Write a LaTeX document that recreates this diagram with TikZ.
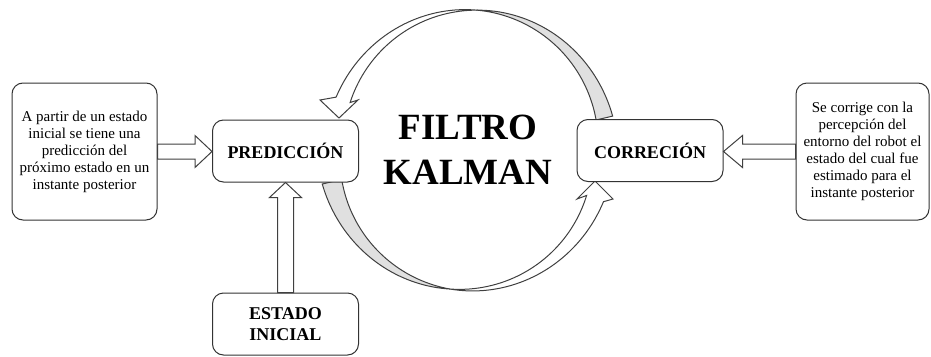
\documentclass[tikz,border=0pt]{standalone}
\usepackage{fontspec}
\setmainfont{Liberation Serif}
\usetikzlibrary{calc}

\begin{document}
\begin{tikzpicture}[x=1pt,y=-1pt]
        \tikzset{caja/.style = {draw=black!80, line width=1pt, fill=white, rounded corners=11pt, align=center, inner sep=2pt}}
        \tikzset{paso/.style = {caja, font=\bfseries\fontsize{18}{21}\selectfont, minimum width=146pt, minimum height=62pt}}
        \tikzset{nota/.style = {caja, font=\fontsize{15}{17}\selectfont, minimum height=137pt}}
        \tikzset{bloque/.style = {draw=black!75, line width=1pt, fill=white}}
        \tikzset{cinta/.style = {draw=black!75, line width=1pt}}

        \useasboundingbox (0,0) rectangle (931,356);

        % ring, upper half
        \filldraw[cinta, fill=black!12] plot[domain=13.2:87.5, samples=40] ({471+(137+8.5*(87.5-\x)/74.3)*cos(\x)},{150-(140+8.5*(87.5-\x)/74.3)*sin(\x)})
            -- plot[domain=87.5:13.2, samples=40] ({471+(137-8.5*(87.5-\x)/74.3)*cos(\x)},{150-(140-8.5*(87.5-\x)/74.3)*sin(\x)}) -- cycle;
        \filldraw[cinta, fill=white] plot[domain=87.5:159, samples=40] ({471+(137-7.5*(\x-87.5)/71.5)*cos(\x)},{150-(140-7.5*(\x-87.5)/71.5)*sin(\x)})
            -- (358,100) -- (339,118) -- (320,100)
            -- plot[domain=159:87.5, samples=40] ({471+(137+7.5*(\x-87.5)/71.5)*cos(\x)},{150-(140+7.5*(\x-87.5)/71.5)*sin(\x)}) -- cycle;

        % ring, lower half
        \filldraw[cinta, fill=black!12] plot[domain=193.1:263.3, samples=40] ({466+(137.6+10*(263.3-\x)/70.2)*cos(\x)},{150-(140+10*(263.3-\x)/70.2)*sin(\x)})
            -- plot[domain=263.3:193.1, samples=40] ({466+(137.6-10*(263.3-\x)/70.2)*cos(\x)},{150-(140-10*(263.3-\x)/70.2)*sin(\x)}) -- cycle;
        \filldraw[cinta, fill=white] plot[domain=263.3:339.7, samples=40] ({466+(137.6-9*(\x-263.3)/76.4)*cos(\x)},{150-(140-9*(\x-263.3)/76.4)*sin(\x)})
            -- (577,199) -- (595,181) -- (613,199)
            -- plot[domain=339.7:263.3, samples=40] ({466+(137.6+9*(\x-263.3)/76.4)*cos(\x)},{150-(140+9*(\x-263.3)/76.4)*sin(\x)}) -- cycle;

        % boxes
        \node[nota, minimum width=145pt] (izq) at (84.5,151.5) {A partir de un estado\\inicial se tiene una\\predicción del\\próximo estado en un\\instante posterior};
        \node[paso] (pred) at (285.5,151) {PREDICCIÓN};
        \node[paso] (corr) at (650,150.5) {CORRECIÓN};
        \node[nota, minimum width=133pt] (der) at (862.5,151.5) {Se corrige con la\\percepción del\\entorno del robot el\\estado del cual fue\\estimado para el\\instante posterior};
        \node[paso] (est) at (285.5,324) {ESTADO\\INICIAL};
        \node[font=\bfseries\fontsize{37}{45}\selectfont, align=center] (titulo) at (468,150) {FILTRO\\KALMAN};

        % arrows
        \draw[bloque] let \p1 = (izq.east), \p2 = (pred.west) in
            (\x1,\y1-7.5pt) -- (\x2-17pt,\y1-7.5pt) -- (\x2-17pt,\y1-16pt) -- (\x2,\y1)
            -- (\x2-17pt,\y1+16pt) -- (\x2-17pt,\y1+7.5pt) -- (\x1,\y1+7.5pt) -- cycle;
        \draw[bloque] let \p1 = (der.west), \p2 = (corr.east) in
            (\x1,\y1-7.5pt) -- (\x2+19pt,\y1-7.5pt) -- (\x2+19pt,\y1-16pt) -- (\x2,\y1)
            -- (\x2+19pt,\y1+16pt) -- (\x2+19pt,\y1+7.5pt) -- (\x1,\y1+7.5pt) -- cycle;
        \draw[bloque] let \p1 = (est.north), \p2 = (pred.south) in
            (\x1-8pt,\y1) -- (\x1-8pt,\y2-15pt) -- (\x1-16pt,\y2-15pt) -- (\x1,\y2)
            -- (\x1+16pt,\y2-15pt) -- (\x1+8pt,\y2-15pt) -- (\x1+8pt,\y1) -- cycle;

    \end{tikzpicture}
\end{document}
